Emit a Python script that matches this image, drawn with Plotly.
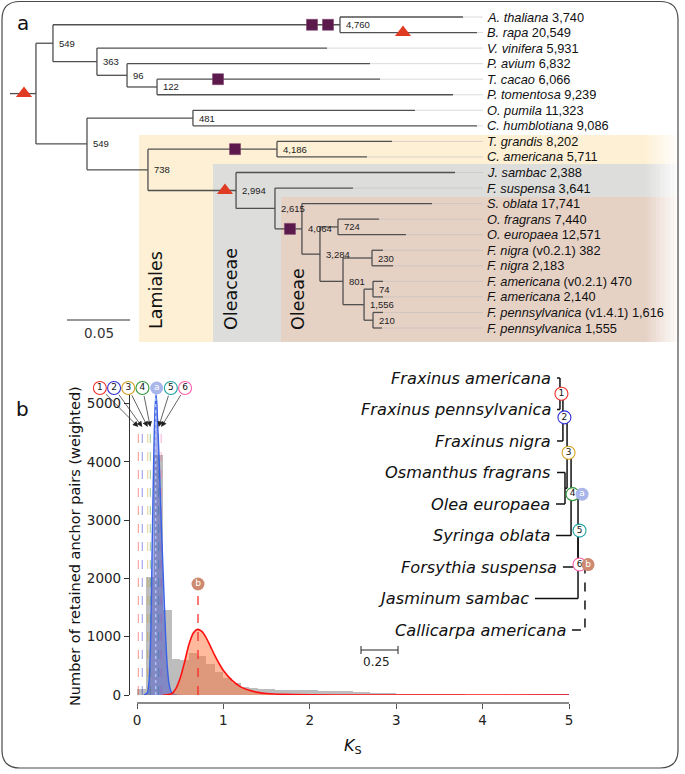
import plotly.graph_objects as go

W, H = 685, 774
def px(x): return x / W
def py(y): return 1 - y / H

# ---------------- Panel a: species tree data ----------------
tip_species = ["A. thaliana", "B. rapa", "V. vinifera", "P. avium", "T. cacao", "P. tomentosa",
               "O. pumila", "C. humblotiana", "T. grandis", "C. americana", "J. sambac",
               "F. suspensa", "S. oblata", "O. fragrans", "O. europaea", "F. nigra", "F. nigra",
               "F. americana", "F. americana", "F. pennsylvanica", "F. pennsylvanica"]
tip_suffix = ["3,740", "20,549", "5,931", "6,832", "6,066", "9,239", "11,323", "9,086", "8,202",
              "5,711", "2,388", "3,641", "17,741", "7,440", "12,571", "(v0.2.1) 382", "2,183",
              "(v0.2.1) 470", "2,140", "(v1.4.1) 1,616", "1,555"]
tip_parent = ["B", "B", "C", "D", "E", "E", "G", "G", "I", "I", "J", "K", "L", "N", "N",
              "P", "P", "R", "R", "S", "S"]
tip_depth = [0.3595, 0.3706, 0.2516, 0.2857, 0.2937, 0.3516, 0.3214, 0.3706, 0.3032, 0.2833,
             0.3532, 0.2722, 0.3349, 0.2929, 0.3143, 0.2960, 0.3040, 0.2960, 0.2960, 0.2960, 0.2952]
node_id = ["root", "A", "B", "C", "D", "E", "F", "G", "H", "I", "J", "K", "L", "M", "N",
           "O", "P", "Q", "R", "S"]
node_parent = [None, "root", "A", "A", "C", "D", "root", "F", "F", "H", "H", "J", "K", "L",
               "M", "M", "O", "O", "Q", "Q"]
node_depth = [0.0206, 0.0341, 0.2619, 0.0690, 0.0929, 0.1167, 0.0611, 0.1452, 0.1095, 0.2119,
              0.1794, 0.2103, 0.2317, 0.2460, 0.2603, 0.2643, 0.2873, 0.2810, 0.2881, 0.2881]
node_support = ["", "549", "4,760", "363", "96", "122", "549", "481", "738", "4,186", "2,994",
                "2,615", "4,064", "3,284", "724", "801", "230", "1,556", "74", "210"]
dup_branch = ["B", "B", "t4", "I", "L"]
dup_depth = [0.2397, 0.2524, 0.1651, 0.1786, 0.2222]
wgd_branch = ["root", "t1", "J"]
wgd_depth = [0.0111, 0.3119, 0.1706]
scale_len_a = 0.05

# ---------------- Panel b: Ks distribution data ----------------
ks_bin_start = [round(0.1 * i, 1) for i in range(50)]
ks_counts = [100, 2030, 4120, 1450, 620, 605, 725, 670, 530, 395,
             290, 210, 140, 115, 100, 95, 90, 85, 82, 80,
             78, 75, 72, 68, 64, 58, 50, 42, 35, 28,
             24, 21, 18, 16, 14, 12, 10, 9, 8, 7,
             6, 5, 5, 4, 4, 3, 3, 3, 2, 2]
comp_a_ks = [0.08, 0.12, 0.14, 0.155, 0.165, 0.175, 0.19, 0.20, 0.21, 0.22, 0.23, 0.24, 0.255,
             0.28, 0.305, 0.332, 0.35, 0.37, 0.40, 0.45, 5.0]
comp_a_y = [0, 40, 250, 800, 1500, 2500, 3800, 4500, 4950, 5150, 5000, 4600, 4100,
            3000, 2000, 1000, 500, 200, 40, 0, 0]
comp_b_ks = [0.30, 0.35, 0.40, 0.45, 0.50, 0.55, 0.60, 0.65, 0.70, 0.75, 0.80, 0.85, 0.90,
             0.95, 1.00, 1.10, 1.20, 1.30, 1.40, 1.50, 1.70, 2.00, 2.50, 5.00]
comp_b_y = [0, 5, 20, 110, 290, 560, 860, 1060, 1125, 1090, 985, 835, 680,
            540, 420, 250, 140, 80, 45, 25, 10, 3, 0, 0]
peak_labels = ["a", "b"]
peak_ks = [0.216, 0.706]
peak_top = [5150, 1125]
node_labels = ["1", "2", "3", "4", "5", "6"]
node_ks = [0.015, 0.061, 0.124, 0.154, 0.25, 0.28]
node_colors = ["#f0302a", "#3030d8", "#d4a020", "#2f9a3a", "#1fa3a3", "#ff5fa8"]

mini_tips = ["Fraxinus americana", "Fraxinus pennsylvanica", "Fraxinus nigra", "Osmanthus fragrans",
             "Olea europaea", "Syringa oblata", "Forsythia suspensa", "Jasminum sambac",
             "Callicarpa americana"]
mini_tip_x = [0.0, 0.0, 0.0, 0.0, -0.007, -0.007, 0.04, -0.149, 0.101]
mini_node_id = ["n1", "n2", "n12", "n3", "n4", "n5", "n6", "nb"]
mini_node_children = [["m0", "m1"], ["n1", "m2"], ["m3", "m4"], ["n2", "n12"], ["n3", "m5"],
                      ["n4", "m6"], ["n5", "m7"], ["n6", "m8"]]
mini_node_x = [0.02, 0.04, 0.054, 0.068, 0.095, 0.142, 0.142, 0.189]
mini_node_mark = ["1", "2", "", "3", "4", "5", "6", ""]
scale_len_b = 0.25

# ---------------- layout constants ----------------
TREE_PX0, TREE_SCALE = 10, 1260.0
TIP_Y0, TIP_DY = 17, 15.55
MINI_PX0, MINI_SCALE = 557, 148.0
MINI_Y0, MINI_DY = 378, 31.5
HX0, HX1 = 137, 569          # Ks 0..5
HY0, HYT = 695, 393          # counts 0 .. top
HYMAX = 5180.0
def hx(p): return (p - HX0) / (HX1 - HX0) * 5
def hy(p): return (HY0 - p) / (HY0 - HYT) * HYMAX
def m3x(p): return (p - MINI_PX0) / MINI_SCALE
def m3y(p): return (p - MINI_Y0) / MINI_DY

FA = "Liberation Sans, Arial, sans-serif"
FB = "DejaVu Sans, sans-serif"

fig = go.Figure()
shapes = []
annotations = []

def ann(**kw):
    kw.setdefault("showarrow", False)
    kw.setdefault("xanchor", "center")
    kw.setdefault("yanchor", "middle")
    annotations.append(kw)

def rect(x0, y0, x1, y1, color):
    shapes.append(dict(type="rect", xref="paper", yref="paper", x0=px(x0), x1=px(x1),
                       y0=py(y1), y1=py(y0), fillcolor=color, line=dict(width=0), layer="below"))

# clade shading
rect(139, 135, 680, 342, "#FDF0D5")
rect(213, 164, 680, 342, "#DDDDDB")
rect(281, 197, 680, 342, "#E6D1C5")
nf = 14
for k in range(nf):
    x0 = 646 + k * 2.5
    rect(x0, 134, x0 + 2.6, 343, f"rgba(255,255,255,{(k + 1) / nf:.3f})")
rect(680, 134, 684, 343, "white")

# rounded outer border
bx0, by0, bx1, by1, r = 2, 1.5, 678, 768, 18
def P(x, y): return f"{px(x):.5f},{py(y):.5f}"
path = (f"M {P(bx0 + r, by0)} L {P(bx1 - r, by0)} Q {P(bx1, by0)} {P(bx1, by0 + r)} "
        f"L {P(bx1, by1 - r)} Q {P(bx1, by1)} {P(bx1 - r, by1)} L {P(bx0 + r, by1)} "
        f"Q {P(bx0, by1)} {P(bx0, by1 - r)} L {P(bx0, by0 + r)} Q {P(bx0, by0)} {P(bx0 + r, by0)} Z")
shapes.append(dict(type="path", xref="paper", yref="paper", path=path,
                   line=dict(color="#4a4a4a", width=1.2), layer="above"))

# ---------------- tree a geometry ----------------
children = {n: [] for n in node_id}
parent, depth, ypos = {}, {}, {}
for i, p in enumerate(tip_parent):
    children[p].append(f"t{i}")
    parent[f"t{i}"] = p
    depth[f"t{i}"] = tip_depth[i]
    ypos[f"t{i}"] = i
for n, p, d in zip(node_id, node_parent, node_depth):
    parent[n] = p
    depth[n] = d
    if p:
        children[p].append(n)
def gety(n):
    if n not in ypos:
        ypos[n] = sum(gety(c) for c in children[n]) / len(children[n])
    return ypos[n]
gety("root")

guide_end = (483 - TREE_PX0) / TREE_SCALE
gx, gy = [], []
for i in range(len(tip_species)):
    gx += [tip_depth[i], guide_end, None]
    gy += [i, i, None]
fig.add_trace(go.Scatter(x=gx, y=gy, mode="lines", line=dict(color="rgba(190,190,190,0.55)", width=1),
                         xaxis="x2", yaxis="y2", hoverinfo="skip"))

lx, ly = [], []
for n, p in parent.items():
    if p is None:
        continue
    lx += [depth[p], depth[n], None]
    ly += [ypos[n], ypos[n], None]
for n in node_id:
    cy = [ypos[c] for c in children[n]]
    lx += [depth[n], depth[n], None]
    ly += [min(cy), max(cy), None]
lx += [0, depth["root"], None]
ly += [ypos["root"], ypos["root"], None]
fig.add_trace(go.Scatter(x=lx, y=ly, mode="lines", line=dict(color="#505050", width=1.3),
                         xaxis="x2", yaxis="y2", hoverinfo="skip"))

fig.add_trace(go.Scatter(x=dup_depth, y=[ypos[b] for b in dup_branch], mode="markers",
                         marker=dict(symbol="square", size=11, color="#5C1A4C",
                                     line=dict(color="#7a3a68", width=0.5)),
                         xaxis="x2", yaxis="y2", hoverinfo="skip"))
fig.add_trace(go.Scatter(x=wgd_depth, y=[ypos[b] for b in wgd_branch], mode="markers",
                         marker=dict(symbol="triangle-up", size=14, color="#E03C24"),
                         xaxis="x2", yaxis="y2", hoverinfo="skip"))

# scale bar a
sb_y = (320 - TIP_Y0) / TIP_DY
sb_x0 = (67 - TREE_PX0) / TREE_SCALE
fig.add_trace(go.Scatter(x=[sb_x0, sb_x0 + scale_len_a], y=[sb_y, sb_y], mode="lines",
                         line=dict(color="#333", width=1.2), xaxis="x2", yaxis="y2", hoverinfo="skip"))
ann(x=sb_x0 + scale_len_a / 2, y=(333 - TIP_Y0) / TIP_DY, xref="x2", yref="y2",
    text="0.05", font=dict(family=FB, size=13.5, color="#333"))

for i, (sp, suf) in enumerate(zip(tip_species, tip_suffix)):
    ann(x=(485 - TREE_PX0) / TREE_SCALE, y=i, xref="x2", yref="y2",
        text=f"<i>{sp}</i> {suf}", xanchor="left",
        font=dict(family=FA, size=12.8, color="#111"))
for n, s in zip(node_id, node_support):
    if s:
        ann(x=depth[n] + 4 / TREE_SCALE, y=ypos[n], xref="x2", yref="y2",
            text=s, xanchor="left", font=dict(family=FA, size=9.5, color="#222"))

for txt, cx, cy in [("Lamiales", 156, 290), ("Oleaceae", 231, 289), ("Oleeae", 298, 299)]:
    ann(x=px(cx), y=py(cy), xref="paper", yref="paper", text=txt, textangle=-90,
        font=dict(family=FB, size=17.5, color="#111"))
ann(x=px(22.5), y=py(23), xref="paper", yref="paper", text="a",
    font=dict(family=FB, size=20, color="#111"))
ann(x=px(22.5), y=py(409), xref="paper", yref="paper", text="b",
    font=dict(family=FB, size=20, color="#111"))

# ---------------- histogram b ----------------
fig.add_trace(go.Bar(x=[b + 0.05 for b in ks_bin_start], y=ks_counts, width=0.1,
                     marker=dict(color="rgba(135,135,135,0.55)", line=dict(width=0)),
                     xaxis="x", yaxis="y", hoverinfo="skip"))
for k, (ks, c) in enumerate(zip(node_ks, node_colors)):
    fig.add_trace(go.Scatter(x=[ks, ks], y=[0, hy(432)], mode="lines",
                             line=dict(color=c, width=1, dash="dash"), opacity=0.5,
                             xaxis="x", yaxis="y", hoverinfo="skip"))
fig.add_trace(go.Scatter(x=comp_a_ks, y=comp_a_y, mode="lines", fill="tozeroy",
                         fillcolor="rgba(55,70,200,0.45)",
                         line=dict(color="#3a62e6", width=1.4, shape="spline", smoothing=0.6),
                         xaxis="x", yaxis="y", hoverinfo="skip"))
fig.add_trace(go.Scatter(x=comp_b_ks, y=comp_b_y, mode="lines", fill="tozeroy",
                         fillcolor="rgba(255,115,60,0.5)",
                         line=dict(color="#ff1010", width=1.6, shape="spline", smoothing=0.6),
                         xaxis="x", yaxis="y", hoverinfo="skip"))
fig.add_trace(go.Scatter(x=[peak_ks[0]] * 2, y=[0, peak_top[0]], mode="lines",
                         line=dict(color="rgba(175,195,255,0.95)", width=1.5, dash="dot"),
                         xaxis="x", yaxis="y", hoverinfo="skip"))
fig.add_trace(go.Scatter(x=[peak_ks[1]] * 2, y=[0, hy(591)], mode="lines",
                         line=dict(color="#ff2020", width=1.2, dash="dash"),
                         xaxis="x", yaxis="y", hoverinfo="skip"))

# label row of circles above histogram (drawn on the full-page overlay axes)
ROW_Y = 388
a_px = HX0 + peak_ks[0] / 5 * (HX1 - HX0)
row_px = [a_px + 1 + 14.2 * (k - 4) for k in [0, 1, 2, 3, 5, 6]]
for k, (lab, ks, c) in enumerate(zip(node_labels, node_ks, node_colors)):
    cxp = row_px[k]
    hx_p = HX0 + ks / 5 * (HX1 - HX0)
    dx, dy = hx_p - cxp, 427 - ROW_Y
    L = (dx * dx + dy * dy) ** 0.5
    tx, ty = cxp + dx / L * 6.5, ROW_Y + dy / L * 6.5
    annotations.append(dict(x=ks, y=hy(427), xref="x", yref="y", text="", showarrow=True,
                            ax=tx - hx_p, ay=ty - 427, arrowhead=2, arrowsize=1.6, arrowwidth=0.7,
                            arrowcolor="#222", standoff=0))
fig.add_trace(go.Scatter(x=[m3x(p) for p in row_px], y=[m3y(ROW_Y)] * 6, mode="markers+text",
                         text=node_labels, textfont=dict(family=FB, size=9, color="#111"),
                         marker=dict(size=13, color="white", line=dict(color=node_colors, width=1.1)),
                         xaxis="x3", yaxis="y3", hoverinfo="skip"))
fig.add_trace(go.Scatter(x=[m3x(a_px + 1)], y=[m3y(ROW_Y)], mode="markers+text",
                         text=[peak_labels[0]], textfont=dict(family=FB, size=9, color="white"),
                         marker=dict(size=13, color="#a8b6ea", line=dict(width=0)),
                         xaxis="x3", yaxis="y3", hoverinfo="skip"))
fig.add_trace(go.Scatter(x=[peak_ks[1]], y=[hy(584)], mode="markers+text",
                         text=[peak_labels[1]], textfont=dict(family=FB, size=9, color="white"),
                         marker=dict(size=13, color="#cd8a70", line=dict(width=0)),
                         cliponaxis=False, xaxis="x", yaxis="y", hoverinfo="skip"))

# ---------------- mini tree (panel b right) ----------------
mpos_x = {f"m{i}": x for i, x in enumerate(mini_tip_x)}
mpos_y = {f"m{i}": i for i in range(len(mini_tips))}
mchildren = dict(zip(mini_node_id, mini_node_children))
for n, x in zip(mini_node_id, mini_node_x):
    mpos_x[n] = x
def mgety(n):
    if n not in mpos_y:
        mpos_y[n] = sum(mgety(c) for c in mchildren[n]) / len(mchildren[n])
    return mpos_y[n]
for n in mini_node_id:
    mgety(n)
sx, sy, dx_, dy_ = [], [], [], []
for n in mini_node_id:
    tx_, ty_ = (dx_, dy_) if n == "nb" else (sx, sy)
    cys = [mpos_y[c] for c in mchildren[n]]
    tx_ += [mpos_x[n], mpos_x[n], None]
    ty_ += [min(cys), max(cys), None]
    for c in mchildren[n]:
        tx_ += [mpos_x[c], mpos_x[n], None]
        ty_ += [mpos_y[c], mpos_y[c], None]
fig.add_trace(go.Scatter(x=sx, y=sy, mode="lines", line=dict(color="#111", width=1.5),
                         xaxis="x3", yaxis="y3", hoverinfo="skip"))
fig.add_trace(go.Scatter(x=dx_, y=dy_, mode="lines", line=dict(color="#111", width=1.5, dash="dash"),
                         xaxis="x3", yaxis="y3", hoverinfo="skip"))
for i, name in enumerate(mini_tips):
    ann(x=mini_tip_x[i] - 4 / MINI_SCALE, y=i, xref="x3", yref="y3",
        text=f"<i>{name}</i>", xanchor="right", font=dict(family=FB, size=16.2, color="#111"))
mk = [(n, m) for n, m in zip(mini_node_id, mini_node_mark) if m]
fig.add_trace(go.Scatter(x=[mpos_x[n] + 1.5 / MINI_SCALE for n, m in mk], y=[mpos_y[n] for n, m in mk],
                         mode="markers+text", text=[m for n, m in mk],
                         textfont=dict(family=FB, size=9, color="#111"),
                         marker=dict(size=13, color="white", line=dict(color=node_colors, width=1.1)),
                         xaxis="x3", yaxis="y3", hoverinfo="skip"))
fig.add_trace(go.Scatter(x=[mpos_x["n4"] + 11 / MINI_SCALE, mpos_x["n6"] + 10 / MINI_SCALE],
                         y=[mpos_y["n4"], mpos_y["n6"]], mode="markers+text", text=peak_labels,
                         textfont=dict(family=FB, size=9, color="white"),
                         marker=dict(size=13, color=["#a8b6ea", "#cd8a70"], line=dict(width=0)),
                         xaxis="x3", yaxis="y3", hoverinfo="skip"))
msb_x0 = m3x(361)
msb_y = m3y(650)
tk = 4 / MINI_DY
fig.add_trace(go.Scatter(x=[msb_x0, msb_x0 + scale_len_b, None, msb_x0, msb_x0, None,
                            msb_x0 + scale_len_b, msb_x0 + scale_len_b],
                         y=[msb_y, msb_y, None, msb_y - tk, msb_y + tk, None, msb_y - tk, msb_y + tk],
                         mode="lines", line=dict(color="#222", width=1), xaxis="x3", yaxis="y3",
                         hoverinfo="skip"))
ann(x=msb_x0, y=m3y(662), xref="x3", yref="y3", text="0.25", xanchor="left",
    font=dict(family=FB, size=12, color="#222"))

# axis titles
ann(x=px(75), y=py(546), xref="paper", yref="paper",
    text="Number of retained anchor pairs (weighted)", textangle=-90,
    font=dict(family=FB, size=14.5, color="#111"))
ann(x=px(353), y=py(746), xref="paper", yref="paper", text="<i>K</i><sub>S</sub>",
    font=dict(family=FB, size=16, color="#111"))

fig.update_layout(
    template="none",
    width=W, height=H, autosize=False, margin=dict(l=0, r=0, t=0, b=0, pad=0),
    paper_bgcolor="white", plot_bgcolor="rgba(0,0,0,0)", showlegend=False,
    barmode="overlay", bargap=0,
    shapes=shapes, annotations=annotations,
    xaxis=dict(domain=[px(HX0), px(HX1)], range=[0, 5], anchor="free", position=py(703),
               showline=True, linecolor="#8a8a8a", linewidth=1.8, ticks="outside", ticklen=5,
               tickcolor="#555", tickwidth=1.2, tickvals=[0, 1, 2, 3, 4, 5], showgrid=False,
               zeroline=False, automargin=False, tickfont=dict(family=FB, size=13.5, color="#222")),
    yaxis=dict(domain=[py(HY0), py(HYT)], range=[0, HYMAX], anchor="free", position=px(129),
               showline=True, linecolor="#333", linewidth=1.2, ticks="outside", ticklen=5,
               tickcolor="#333", tickvals=[0, 1000, 2000, 3000, 4000, 5000], showgrid=False,
               zeroline=False, automargin=False, tickfont=dict(family=FB, size=13.5, color="#222")),
    xaxis2=dict(domain=[0, 1], range=[-TREE_PX0 / TREE_SCALE, (W - TREE_PX0) / TREE_SCALE],
                anchor="y2", visible=False, fixedrange=True),
    yaxis2=dict(domain=[0, 1], range=[(H - TIP_Y0) / TIP_DY, -TIP_Y0 / TIP_DY],
                anchor="x2", visible=False, fixedrange=True),
    xaxis3=dict(domain=[0, 1], range=[-MINI_PX0 / MINI_SCALE, (W - MINI_PX0) / MINI_SCALE],
                anchor="y3", visible=False, fixedrange=True),
    yaxis3=dict(domain=[0, 1], range=[(H - MINI_Y0) / MINI_DY, -MINI_Y0 / MINI_DY],
                anchor="x3", visible=False, fixedrange=True),
)

fig.write_html("out.html", config={"displayModeBar": False},
               post_script="document.body.style.margin='0';document.body.style.overflow='hidden';")
